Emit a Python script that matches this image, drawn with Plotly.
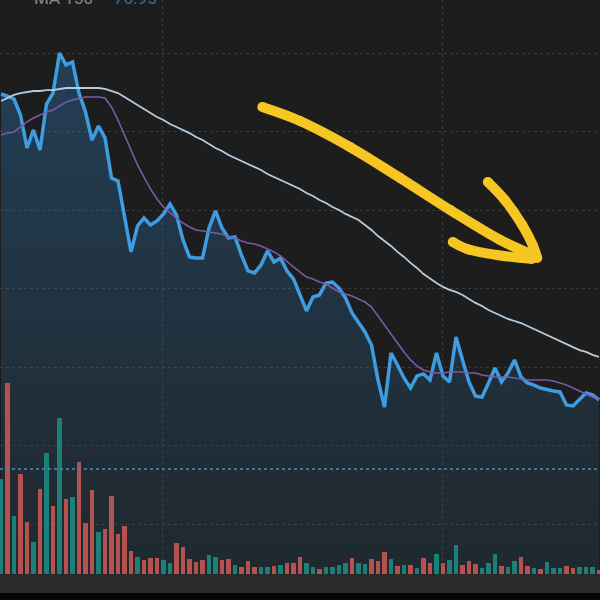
import plotly.graph_objects as go

# ---- data ----
days = list(range(93))

price = [87.39, 87.26, 87.07, 86.05, 83.95, 85.10, 83.82, 86.75, 87.45, 90.00,
         89.24, 89.43, 87.45, 86.24, 84.46, 85.35, 84.59, 82.04, 81.85, 79.49,
         77.33, 78.98, 79.49, 79.05, 79.30, 79.75, 80.38, 79.68, 78.09, 77.01,
         76.94, 76.94, 78.85, 79.94, 78.85, 78.22, 78.28, 77.13, 76.12, 75.99,
         76.50, 77.39, 76.69, 76.94, 76.12, 75.61, 74.59, 73.57, 74.46, 74.59,
         75.35, 75.41, 75.03, 74.40, 73.44, 72.87, 72.23, 71.40, 69.17, 67.45,
         70.89, 70.13, 69.30, 68.66, 69.43, 69.56, 69.17, 70.89, 69.43, 69.05,
         71.91, 70.45, 69.05, 68.15, 68.09, 68.98, 69.94, 69.05, 69.62, 70.45,
         69.36, 68.98, 68.85, 68.66, 68.54, 68.47, 68.41, 67.58, 67.52, 67.90,
         68.35, 68.22, 67.90]

ma_short = [84.78, 84.90, 84.97, 85.29, 85.61, 85.86, 86.05, 86.24, 86.37, 86.62,
            86.88, 87.01, 87.13, 87.20, 87.20, 87.20, 87.13, 86.56, 85.73, 84.78,
            83.82, 82.87, 82.10, 81.34, 80.70, 80.19, 79.81, 79.49, 79.17, 78.92,
            78.73, 78.66, 78.60, 78.54, 78.47, 78.28, 78.22, 78.03, 77.90, 77.84,
            77.71, 77.52, 77.33, 77.07, 76.69, 76.37, 76.05, 75.73, 75.61, 75.41,
            75.29, 75.03, 74.78, 74.65, 74.52, 74.33, 74.14, 73.82, 73.25, 72.68,
            72.10, 71.47, 70.96, 70.45, 70.06, 69.81, 69.68, 69.62, 69.62, 69.68,
            69.68, 69.68, 69.62, 69.62, 69.49, 69.43, 69.36, 69.36, 69.36, 69.30,
            69.24, 69.17, 69.17, 69.17, 69.17, 69.11, 68.98, 68.85, 68.66, 68.47,
            68.28, 68.09, 67.90]

ma_long = [86.94, 87.13, 87.33, 87.45, 87.52, 87.58, 87.58, 87.64, 87.64, 87.71,
           87.77, 87.77, 87.77, 87.77, 87.77, 87.77, 87.71, 87.58, 87.45, 87.20,
           86.94, 86.69, 86.43, 86.18, 85.92, 85.73, 85.48, 85.29, 85.10, 84.90,
           84.65, 84.46, 84.20, 83.95, 83.76, 83.50, 83.31, 83.12, 82.93, 82.74,
           82.55, 82.29, 82.10, 81.91, 81.72, 81.53, 81.34, 81.08, 80.89, 80.64,
           80.45, 80.19, 80.00, 79.75, 79.55, 79.36, 79.05, 78.73, 78.34, 78.03,
           77.71, 77.33, 77.01, 76.63, 76.31, 75.92, 75.61, 75.35, 75.10, 74.91,
           74.78, 74.59, 74.33, 74.08, 73.89, 73.63, 73.44, 73.25, 73.06, 72.93,
           72.80, 72.61, 72.42, 72.23, 72.04, 71.85, 71.66, 71.47, 71.28, 71.08,
           70.96, 70.77, 70.64]

volume = [9.5, 19.1, 5.8, 10.0, 5.2, 3.2, 8.5, 12.1, 6.8, 15.6,
          7.5, 7.7, 11.2, 5.1, 8.4, 4.2, 4.5, 7.8, 4.0, 4.8,
          2.3, 1.7, 1.4, 1.6, 1.6, 1.4, 1.1, 3.1, 2.7, 1.5,
          1.2, 1.4, 1.9, 1.7, 1.4, 1.5, 0.9, 0.7, 1.3, 0.7,
          0.7, 0.7, 0.8, 0.9, 1.1, 1.1, 1.7, 1.1, 0.7, 0.5,
          0.7, 0.7, 0.9, 1.1, 1.6, 1.1, 1.0, 1.5, 1.3, 2.2,
          1.5, 0.8, 0.9, 0.9, 0.6, 1.6, 1.1, 2.0, 1.1, 1.4,
          2.9, 0.9, 1.3, 1.0, 0.6, 1.1, 2.0, 0.8, 0.7, 1.3,
          1.7, 0.8, 0.6, 0.5, 1.2, 0.6, 0.6, 0.8, 0.6, 0.7,
          0.7, 0.7, 0.4]

direction = ("ududdududu" "dudddudddd" "duddduuddd" "dduudduddd" "uududdduud"
             "uuuuduuddd" "udududdudu" "uddduuuduu" "dduduuuddu" "uud")

REF_LEVEL = 63.5          # blue dotted reference line
GRID_X = [24.92, 67.85]   # vertical grid positions (day index)
TOP_LABEL = "MA 150"
TOP_VALUE = "76.95"

# hand-drawn arrow strokes (day index, price)
arrow_shaft_x = [40.2, 46.0, 53.7, 61.4, 69.1, 76.8, 82.2]
arrow_shaft_y = [86.56, 85.67, 84.01, 82.04, 80.00, 78.09, 77.07]
arrow_head1_x = [74.9, 77.5, 80.2, 81.8, 82.5]
arrow_head1_y = [81.78, 80.64, 79.04, 77.77, 76.94]
arrow_head2_x = [69.5, 71.7, 76.3, 81.7]
arrow_head2_y = [77.96, 77.52, 77.13, 76.88]

# ---- figure ----
UP, DOWN = "#1c8079", "#b5524f"
bar_colors = [UP if c == "u" else DOWN for c in direction]

fig = go.Figure()

fig.add_trace(go.Scatter(
    x=days, y=price, mode="lines", fill="tozeroy",
    line=dict(color="#3e9de0", width=3.5),
    fillgradient=dict(type="vertical", start=56.8, stop=90,
                      colorscale=[[0, "rgba(45,100,140,0.16)"],
                                  [1, "rgba(45,130,200,0.34)"]]),
    hoverinfo="skip"))
fig.add_trace(go.Scatter(x=days, y=ma_short, mode="lines",
                         line=dict(color="#7a5aa8", width=1.6), hoverinfo="skip"))
fig.add_trace(go.Scatter(x=days, y=ma_long, mode="lines",
                         line=dict(color="#b6cde0", width=1.8), hoverinfo="skip"))

fig.add_trace(go.Bar(x=days, y=volume, yaxis="y2", width=0.68,
                     marker=dict(color=bar_colors, line=dict(width=0)),
                     hoverinfo="skip"))

for ax, ay in [(arrow_shaft_x, arrow_shaft_y),
               (arrow_head1_x, arrow_head1_y),
               (arrow_head2_x, arrow_head2_y)]:
    fig.add_trace(go.Scatter(x=ax, y=ay, mode="lines+markers",
                             line=dict(color="#f6c623", width=10, shape="spline"),
                             marker=dict(color="#f6c623", size=10),
                             hoverinfo="skip"))

fig.add_shape(type="line", xref="paper", x0=0, x1=1, yref="y",
              y0=REF_LEVEL, y1=REF_LEVEL,
              line=dict(color="#4f8fb5", width=1.6, dash="dot"))
# black strip at the very bottom of the screenshot
fig.add_shape(type="rect", xref="paper", yref="paper", x0=-0.01, x1=1.01,
              y0=-0.06, y1=-0.0331, fillcolor="#050505", line=dict(width=0),
              layer="above")

fig.add_annotation(xref="paper", yref="paper", x=0.053, y=1.004,
                   xanchor="left", yanchor="middle", showarrow=False,
                   text=TOP_LABEL, font=dict(family="Roboto", size=17, color="#8a8a8a"))
fig.add_annotation(xref="paper", yref="paper", x=0.187, y=1.004,
                   xanchor="left", yanchor="middle", showarrow=False,
                   text=TOP_VALUE, font=dict(family="Roboto", size=17, color="#3f6f96"))

fig.update_layout(
    width=600, height=600,
    margin=dict(l=0, r=0, t=0, b=26),
    paper_bgcolor="#2a2a2a", plot_bgcolor="#1d1d1d",
    showlegend=False, hovermode=False, bargap=0,
    xaxis=dict(range=[-0.154, 92.154], tickvals=GRID_X, showticklabels=False,
               showgrid=True, gridcolor="#3a3a3a", griddash="dot", gridwidth=1,
               zeroline=False, showline=False, ticks=""),
    yaxis=dict(range=[56.815, 93.376], tick0=0, dtick=5, showticklabels=False,
               showgrid=True, gridcolor="#3a3a3a", griddash="dot", gridwidth=1,
               zeroline=False, showline=False, ticks=""),
    yaxis2=dict(range=[0, 57.4], overlaying="y", showgrid=False,
                showticklabels=False, zeroline=False, showline=False),
)

fig.write_html("out.html", config={"displayModeBar": False},
               post_script="document.body.style.margin='0';")
